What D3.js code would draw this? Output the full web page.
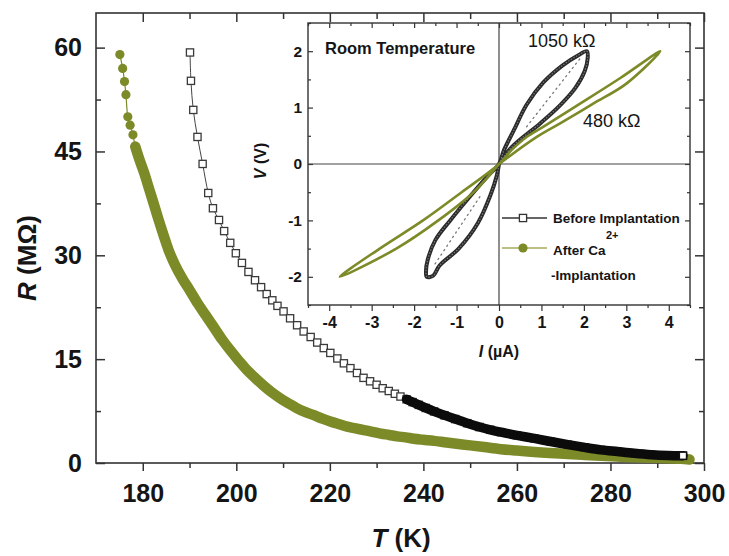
<!DOCTYPE html>
<html>
<head>
<meta charset="utf-8">
<script src="https://cdn.jsdelivr.net/npm/d3@7"></script>
<style>
  body { margin: 0; background: #fff; }
  svg { display: block; font-family: "Liberation Sans", Arial, Helvetica, sans-serif; }
</style>
</head>
<body>
<svg id="chart" width="729" height="556"></svg>
<script>
// ---- R(T): before implantation (open squares) ----
const beforeT = [190.1,190.3,190.8,191.7,192.8,194.0,195.0,196.3,197.4,198.7,
  199.9,201.2,202.6,204.0,205.3,206.5,207.7,208.8,210.1,211.5,
  213.0,214.4,215.9,217.3,218.7,220.1,221.6,223.0,224.4,225.8,
  227.2,228.6,230.0,231.3,232.6,233.9,235.1,236.4,237.7,239.0,
  240.5,242.3,244.5,246.8,249.4,252.0,254.3,256.6,260.0,263.7,
  267.2,270.9,274.5,278.0,281.5,285.1,288.7,292.3,295.5];
const beforeR = [59.3,55.2,51.0,47.1,43.2,39.0,36.8,35.1,33.5,31.8,
  30.3,28.9,27.6,26.4,25.4,24.4,23.5,22.7,21.9,20.9,
  19.9,19.0,18.2,17.4,16.6,15.9,15.1,14.4,13.7,13.0,
  12.3,11.8,11.3,10.8,10.4,10.0,9.6,9.2,8.8,8.4,
  7.95,7.45,6.9,6.35,5.75,5.2,4.8,4.45,4.0,3.55,
  3.1,2.65,2.25,1.9,1.65,1.4,1.2,1.08,1.05];

// ---- R(T): after Ca2+ implantation (filled circles) ----
const afterT = [175.1,175.7,176.1,176.4,176.8,177.3,177.9,178.4,
  179.3,180.3,181.4,182.5,183.4,184.4,185.5,186.9,188.5,190.0,
  191.8,193.5,195.2,197.0,198.8,200.5,202.3,204.0,205.8,207.6,
  209.4,211.2,213.0,214.8,216.6,218.4,220.1,222.0,223.7,225.5,
  227.3,229.1,230.9,232.7,234.4,236.2,238.0,240.0,242.3,245.0,
  247.5,250.0,253.0,256.6,260.0,263.7,267.0,270.9,274.5,278.0,
  281.5,285.1,288.5,292.3,295.0,296.9];
const afterR = [59.0,57.0,55.1,53.2,50.0,48.8,47.4,45.7,
  43.8,41.9,39.5,37.1,35.1,33.0,30.8,28.6,26.6,25.0,
  23.0,21.3,19.6,17.8,16.2,14.8,13.4,12.3,11.2,10.2,
  9.35,8.6,7.9,7.35,6.9,6.4,6.0,5.6,5.25,5.0,
  4.75,4.5,4.25,4.05,3.85,3.7,3.5,3.35,3.2,2.95,
  2.75,2.55,2.3,2.0,1.8,1.6,1.45,1.3,1.17,1.05,
  0.93,0.82,0.75,0.68,0.6,0.5];

const xTickValues = [180,200,220,240,260,280,300];
const xMinorValues = [190,210,230,250,270,290];
const yTickValues = [0,15,30,45,60];
const yMinorValues = [7.5,22.5,37.5,52.5];

// ---- Room-temperature I-V sweeps (I in µA, V in V) ----
const loopBeforeI = [0,0.3,0.97,1.45,1.8,2.02,2.09,2.07,1.87,1.5,1.05,0.65,0.35,0.12,0,
  -0.25,-0.6,-1.15,-1.5,-1.68,-1.72,-1.7,-1.55,-1.4,-0.95,-0.5,-0.2,-0.05,0];
const loopBeforeV = [0,0.3,0.72,1.05,1.35,1.65,1.88,2.0,1.93,1.75,1.45,1.05,0.6,0.25,0,
  -0.2,-0.5,-1.0,-1.35,-1.7,-1.9,-2.0,-1.98,-1.8,-1.5,-1.05,-0.55,-0.2,0];
const loopAfterI = [0,0.89,1.44,2.22,3.01,3.8,2.85,1.91,1.04,0.65,0.3,0,
  -0.88,-1.79,-2.81,-3.75,-2.42,-1.43,-0.6,0];
const loopAfterV = [0,0.48,0.72,1.07,1.43,2.0,1.52,1.07,0.66,0.48,0.25,0,
  -0.5,-1.0,-1.5,-2.0,-1.5,-1.0,-0.5,0];
const innerUpperI = [0.65,1.91], innerUpperV = [0.66,1.87];
const innerLowerI = [-0.45,-1.55], innerLowerV = [-0.58,-1.82];

const insetXTicks = [-4,-3,-2,-1,0,1,2,3,4];
const insetXMinor = [-4.5,-3.5,-2.5,-1.5,-0.5,0.5,1.5,2.5,3.5,4.5];
const insetYTicks = [-2,-1,0,1,2];
const insetYMinor = [-2.5,-1.5,-0.5,0.5,1.5,2.5];

const olive = "#7d8a28";
const axisColor = "#333";
const textColor = "#151515";
const plainNumber = d => String(d);   // hyphen-minus, no decimals

const svg = d3.select("#chart");

// ================= main panel =================
const box = {left: 96, right: 704, top: 13, bottom: 463};
const x = d3.scaleLinear().domain([170, 300]).range([box.left, box.right]);
const y = d3.scaleLinear().domain([0, 65]).range([box.bottom, box.top]);

function styleAxis(g, fontSize) {
  g.select(".domain").remove();
  g.selectAll(".tick line").attr("stroke", axisColor).attr("stroke-width", 1.5);
  g.selectAll(".tick text").attr("fill", textColor)
    .attr("font-size", fontSize).attr("font-weight", "bold");
}

// bottom: outward ticks with labels
svg.append("g").attr("transform", `translate(0,${box.bottom})`)
  .call(d3.axisBottom(x).tickValues(xTickValues).tickSize(8).tickSizeOuter(0)
    .tickPadding(13).tickFormat(plainNumber))
  .call(g => styleAxis(g, 25));
svg.append("g").attr("transform", `translate(0,${box.bottom})`)
  .call(d3.axisBottom(x).tickValues(xMinorValues).tickSize(5).tickSizeOuter(0).tickFormat(""))
  .call(g => styleAxis(g, 0));
// top: inward ticks
svg.append("g").attr("transform", `translate(0,${box.top})`)
  .call(d3.axisTop(x).tickValues(xTickValues).tickSize(-9).tickSizeOuter(0).tickFormat(""))
  .call(g => styleAxis(g, 0));
svg.append("g").attr("transform", `translate(0,${box.top})`)
  .call(d3.axisTop(x).tickValues(xMinorValues).tickSize(-6).tickSizeOuter(0).tickFormat(""))
  .call(g => styleAxis(g, 0));
// left: inward ticks with labels
svg.append("g").attr("transform", `translate(${box.left},0)`)
  .call(d3.axisLeft(y).tickValues(yTickValues).tickSize(-9).tickSizeOuter(0)
    .tickPadding(14).tickFormat(plainNumber))
  .call(g => styleAxis(g, 25));
svg.append("g").attr("transform", `translate(${box.left},0)`)
  .call(d3.axisLeft(y).tickValues(yMinorValues).tickSize(-5).tickSizeOuter(0).tickFormat(""))
  .call(g => styleAxis(g, 0));
// right: inward ticks
svg.append("g").attr("transform", `translate(${box.right},0)`)
  .call(d3.axisRight(y).tickValues(yTickValues).tickSize(-9).tickSizeOuter(0).tickFormat(""))
  .call(g => styleAxis(g, 0));
svg.append("g").attr("transform", `translate(${box.right},0)`)
  .call(d3.axisRight(y).tickValues(yMinorValues).tickSize(-5).tickSizeOuter(0).tickFormat(""))
  .call(g => styleAxis(g, 0));

svg.append("rect")
  .attr("x", box.left).attr("y", box.top)
  .attr("width", box.right - box.left).attr("height", box.bottom - box.top)
  .attr("fill", "none").attr("stroke", axisColor).attr("stroke-width", 1.6);

// axis titles
const yTitle = svg.append("text")
  .attr("transform", "translate(36,258) rotate(-90)")
  .attr("text-anchor", "middle").attr("font-size", 26).attr("font-weight", "bold")
  .attr("fill", textColor);
yTitle.append("tspan").attr("font-style", "italic").text("R");
yTitle.append("tspan").text(" (MΩ)");

const xTitle = svg.append("text")
  .attr("x", 401).attr("y", 547)
  .attr("text-anchor", "middle").attr("font-size", 26).attr("font-weight", "bold")
  .attr("fill", textColor);
xTitle.append("tspan").attr("font-style", "italic").text("T");
xTitle.append("tspan").text(" (K)");

// ---- series ----
const after = afterT.map((t, i) => ({t, r: afterR[i]}));
const before = beforeT.map((t, i) => ({t, r: beforeR[i]}));
const rtLine = d3.line().x(d => x(d.t)).y(d => y(d.r)).curve(d3.curveCatmullRom.alpha(0.5));

// where sampling gets dense enough for the markers to merge into a solid band
const afterBandFrom = 178;
const beforeBandFrom = 236;

const gAfter = svg.append("g");
gAfter.append("path").datum(after).attr("d", rtLine)
  .attr("fill", "none").attr("stroke", olive).attr("stroke-width", 1.2);
gAfter.selectAll("circle").data(after).join("circle")
  .attr("cx", d => x(d.t)).attr("cy", d => y(d.r)).attr("r", 4.6)
  .attr("fill", olive);
gAfter.append("path").datum(after.filter(d => d.t >= afterBandFrom)).attr("d", rtLine)
  .attr("fill", "none").attr("stroke", olive).attr("stroke-width", 10.5)
  .attr("stroke-linecap", "round").attr("stroke-linejoin", "round");

const gBefore = svg.append("g");
const sq = 7.2;
gBefore.append("path").datum(before).attr("d", rtLine)
  .attr("fill", "none").attr("stroke", "#444").attr("stroke-width", 1);
gBefore.selectAll("rect").data(before).join("rect")
  .attr("x", d => x(d.t) - sq / 2).attr("y", d => y(d.r) - sq / 2)
  .attr("width", sq).attr("height", sq)
  .attr("fill", "#fff").attr("stroke", "#3a3a3a").attr("stroke-width", 1.3);
gBefore.append("path")
  .datum(before.filter(d => d.t >= beforeBandFrom))
  .attr("d", rtLine)
  .attr("fill", "none").attr("stroke", "#0b0b0b").attr("stroke-width", 9.5)
  .attr("stroke-linecap", "round").attr("stroke-linejoin", "round");
const lastB = before[before.length - 1];
gBefore.append("rect")
  .attr("x", x(lastB.t) - sq / 2).attr("y", y(lastB.r) - sq / 2)
  .attr("width", sq).attr("height", sq)
  .attr("fill", "#fff").attr("stroke", "#111").attr("stroke-width", 1.5);

// ================= inset: I-V at room temperature =================
const ib = {left: 308, right: 690, top: 23, bottom: 305};
const ix = d3.scaleLinear().domain([-4.5, 4.5]).range([ib.left, ib.right]);
const iy = d3.scaleLinear().domain([-2.5, 2.5]).range([ib.bottom, ib.top]);
const inset = svg.append("g");

inset.append("rect")
  .attr("x", ib.left).attr("y", ib.top)
  .attr("width", ib.right - ib.left).attr("height", ib.bottom - ib.top)
  .attr("fill", "#fff");

function styleInset(g, fontSize) {
  g.select(".domain").remove();
  g.selectAll(".tick line").attr("stroke", axisColor).attr("stroke-width", 1.2);
  g.selectAll(".tick text").attr("fill", textColor)
    .attr("font-size", fontSize).attr("font-weight", "bold");
}
inset.append("g").attr("transform", `translate(0,${ib.bottom})`)
  .call(d3.axisBottom(ix).tickValues(insetXTicks).tickSize(6).tickSizeOuter(0)
    .tickPadding(6).tickFormat(plainNumber))
  .call(g => styleInset(g, 16));
inset.append("g").attr("transform", `translate(0,${ib.bottom})`)
  .call(d3.axisBottom(ix).tickValues(insetXMinor).tickSize(3).tickSizeOuter(0).tickFormat(""))
  .call(g => styleInset(g, 0));
inset.append("g").attr("transform", `translate(0,${ib.top})`)
  .call(d3.axisTop(ix).tickValues(insetXTicks).tickSize(-5).tickSizeOuter(0).tickFormat(""))
  .call(g => styleInset(g, 0));
inset.append("g").attr("transform", `translate(0,${ib.top})`)
  .call(d3.axisTop(ix).tickValues(insetXMinor).tickSize(-3).tickSizeOuter(0).tickFormat(""))
  .call(g => styleInset(g, 0));
inset.append("g").attr("transform", `translate(${ib.left},0)`)
  .call(d3.axisLeft(iy).tickValues(insetYTicks).tickSize(-5).tickSizeOuter(0)
    .tickPadding(6).tickFormat(plainNumber))
  .call(g => styleInset(g, 15.5));
inset.append("g").attr("transform", `translate(${ib.left},0)`)
  .call(d3.axisLeft(iy).tickValues(insetYMinor).tickSize(-3).tickSizeOuter(0).tickFormat(""))
  .call(g => styleInset(g, 0));
inset.append("g").attr("transform", `translate(${ib.right},0)`)
  .call(d3.axisRight(iy).tickValues(insetYTicks).tickSize(-5).tickSizeOuter(0).tickFormat(""))
  .call(g => styleInset(g, 0));
inset.append("g").attr("transform", `translate(${ib.right},0)`)
  .call(d3.axisRight(iy).tickValues(insetYMinor).tickSize(-3).tickSizeOuter(0).tickFormat(""))
  .call(g => styleInset(g, 0));

// zero cross lines
inset.append("line").attr("x1", ix(0)).attr("x2", ix(0)).attr("y1", ib.top).attr("y2", ib.bottom)
  .attr("stroke", "#444").attr("stroke-width", 1.2);
inset.append("line").attr("x1", ib.left).attr("x2", ib.right).attr("y1", iy(0)).attr("y2", iy(0))
  .attr("stroke", "#444").attr("stroke-width", 1.2);

inset.append("rect")
  .attr("x", ib.left).attr("y", ib.top)
  .attr("width", ib.right - ib.left).attr("height", ib.bottom - ib.top)
  .attr("fill", "none").attr("stroke", axisColor).attr("stroke-width", 1.4);

const ivLine = d3.line().x(d => ix(d[0])).y(d => iy(d[1])).curve(d3.curveCatmullRom.alpha(0.5));
const zip = (a, b) => a.map((v, i) => [v, b[i]]);

// dotted inner sweeps
[[innerUpperI, innerUpperV], [innerLowerI, innerLowerV]].forEach(([I, V]) => {
  inset.append("path").datum(zip(I, V)).attr("d", ivLine)
    .attr("fill", "none").attr("stroke", "#777").attr("stroke-width", 1.3)
    .attr("stroke-dasharray", "1.3 4").attr("stroke-linecap", "round");
});
// before implantation loop
inset.append("path").datum(zip(loopBeforeI, loopBeforeV)).attr("d", ivLine)
  .attr("fill", "none").attr("stroke", "#2a2a2a").attr("stroke-width", 4)
  .attr("stroke-linejoin", "round");
inset.append("path").datum(zip(loopBeforeI, loopBeforeV)).attr("d", ivLine)
  .attr("fill", "none").attr("stroke", "#7a7a7a").attr("stroke-width", 1.2)
  .attr("stroke-dasharray", "1.5 1.5");
// after implantation loop
inset.append("path").datum(zip(loopAfterI, loopAfterV)).attr("d", ivLine)
  .attr("fill", "none").attr("stroke", olive).attr("stroke-width", 2.6)
  .attr("stroke-linejoin", "round");

// annotations
inset.append("text").attr("x", 325).attr("y", 54)
  .attr("font-size", 16.5).attr("font-weight", "bold").attr("fill", textColor)
  .text("Room Temperature");
inset.append("text").attr("x", 528).attr("y", 47)
  .attr("font-size", 18).attr("fill", textColor).text("1050 kΩ");
inset.append("text").attr("x", 583).attr("y", 127)
  .attr("font-size", 18).attr("fill", textColor).text("480 kΩ");

// legend
const lg = inset.append("g");
lg.append("line").attr("x1", 502).attr("x2", 547).attr("y1", 218).attr("y2", 218)
  .attr("stroke", "#333").attr("stroke-width", 1.3);
lg.append("rect").attr("x", 523 - 3.6).attr("y", 218 - 3.6).attr("width", 7.2).attr("height", 7.2)
  .attr("fill", "#fff").attr("stroke", "#333").attr("stroke-width", 1.3);
lg.append("text").attr("x", 553).attr("y", 223)
  .attr("font-size", 13.5).attr("font-weight", "bold").attr("fill", textColor)
  .text("Before Implantation");
lg.append("line").attr("x1", 502).attr("x2", 547).attr("y1", 248).attr("y2", 248)
  .attr("stroke", "#a7ab5a").attr("stroke-width", 1.3);
lg.append("circle").attr("cx", 523).attr("cy", 248).attr("r", 4.6).attr("fill", olive);
lg.append("text").attr("x", 553).attr("y", 255)
  .attr("font-size", 13.5).attr("font-weight", "bold").attr("fill", textColor)
  .text("After Ca");
lg.append("text").attr("x", 606).attr("y", 239)
  .attr("font-size", 11).attr("font-weight", "bold").attr("fill", textColor)
  .text("2+");
lg.append("text").attr("x", 551).attr("y", 280)
  .attr("font-size", 13.5).attr("font-weight", "bold").attr("fill", textColor)
  .text("-Implantation");

// inset axis titles
const iTitle = inset.append("text").attr("x", 499).attr("y", 357)
  .attr("text-anchor", "middle").attr("font-size", 16).attr("font-weight", "bold").attr("fill", textColor);
iTitle.append("tspan").attr("font-style", "italic").text("I");
iTitle.append("tspan").text(" (µA)");
const vTitle = inset.append("text").attr("transform", "translate(266,161) rotate(-90)")
  .attr("text-anchor", "middle").attr("font-size", 16).attr("font-weight", "bold").attr("fill", textColor);
vTitle.append("tspan").attr("font-style", "italic").text("V");
vTitle.append("tspan").text(" (V)");
</script>
</body>
</html>
